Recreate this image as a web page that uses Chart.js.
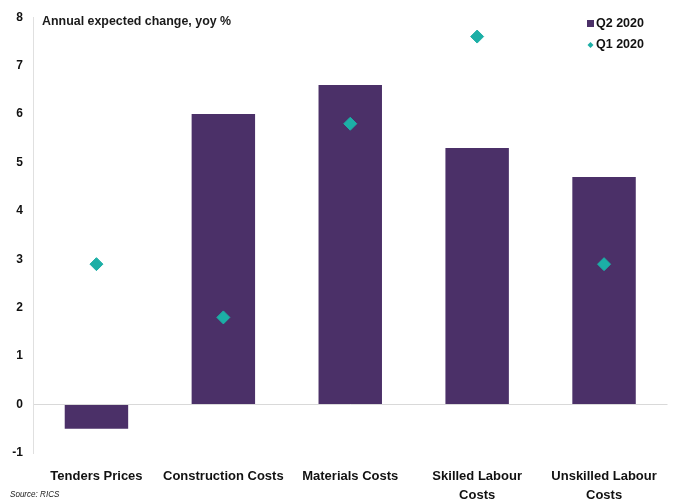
<!DOCTYPE html>
<html>
<head>
<meta charset="utf-8">
<script src="https://cdn.jsdelivr.net/npm/chart.js@4"></script>
<style>
  html, body { margin: 0; padding: 0; background: #fff; }
  #wrap { width: 675px; height: 500px; position: relative; }
</style>
</head>
<body>
<div id="wrap"><canvas id="chart"></canvas></div>
<script>
const categories = ["Tenders Prices", ["Construction Costs"], "Materials Costs", ["Skilled Labour", "Costs"], ["Unskilled Labour", "Costs"]];
const q2Values = [-0.5, 6.0, 6.6, 5.3, 4.7];
const q1Values = [2.9, 1.8, 5.8, 7.6, 2.9];
const seriesNames = ["Q2 2020", "Q1 2020"];
const chartTitle = "Annual expected change, yoy %";
const sourceText = "Source: RICS";

const purple = "#4b3068";
const teal = "#1cafa6";
const font = "'Liberation Sans', Arial, sans-serif";

const extras = {
    id: "extras",
    afterDraw(chart) {
        const c = chart.ctx;
        const area = chart.chartArea;
        c.save();
        c.fillStyle = "#1a1a1a";
        c.textBaseline = "middle";
        // title (condensed bold look)
        c.save();
        c.font = "bold 13.5px " + font;
        c.translate(area.left + 9, 21);
        c.scale(0.92, 1);
        c.fillText(chartTitle, 0, 0);
        c.restore();

        // legend
        c.font = "bold 12.5px " + font;
        c.fillStyle = purple;
        c.fillRect(587, 20, 7, 7);
        c.fillStyle = "#111";
        c.fillText(seriesNames[0], 596, 24);
        c.fillStyle = teal;
        c.beginPath();
        c.moveTo(590.5, 42); c.lineTo(593.5, 45); c.lineTo(590.5, 48); c.lineTo(587.5, 45);
        c.closePath(); c.fill();
        c.fillStyle = "#111";
        c.fillText(seriesNames[1], 596, 45);

        // source note (narrow italic)
        c.font = "italic 9.5px " + font;
        c.fillStyle = "#222";
        c.translate(10, 494);
        c.scale(0.85, 1);
        c.fillText(sourceText, 0, 0);
        c.restore();
    }
};

new Chart(document.getElementById("chart"), {
    type: "bar",
    data: {
        labels: categories,
        datasets: [
            {
                label: seriesNames[0],
                data: q2Values,
                backgroundColor: purple,
                categoryPercentage: 0.5,
                barPercentage: 1,
                grouped: false,
                order: 2
            },
            {
                type: "line",
                label: seriesNames[1],
                data: q1Values,
                showLine: false,
                pointStyle: "rectRot",
                pointRadius: 6.5,
                pointBackgroundColor: teal,
                pointBorderColor: teal,
                order: 1
            }
        ]
    },
    options: {
        responsive: true,
        maintainAspectRatio: false,
        animation: false,
        layout: { padding: { top: 13, right: 6, left: 0, bottom: 0 } },
        plugins: { legend: { display: false }, tooltip: { enabled: false } },
        scales: {
            x: {
                grid: { display: false },
                border: { display: false },
                ticks: { color: "#111", font: { family: font, size: 13, weight: "bold", lineHeight: 1.45 }, padding: 6, maxRotation: 0 },
                afterFit(scale) { scale.height = 47; }
            },
            y: {
                min: -1,
                max: 8,
                ticks: { stepSize: 1, color: "#111", font: { family: font, size: 12, weight: "bold" }, padding: 10 },
                grid: {
                    drawTicks: false,
                    color: ctx => ctx.tick && ctx.tick.value === 0 ? "#d9d9d9" : "transparent"
                },
                border: { display: true, color: "#e0e0e0" },
                afterFit(scale) { scale.width = 33; }
            }
        }
    },
    plugins: [extras]
});
</script>
</body>
</html>
